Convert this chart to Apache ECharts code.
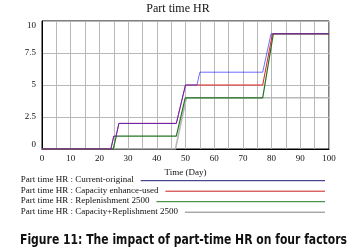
<!DOCTYPE html>
<html><head><meta charset="utf-8">
<script src="https://cdn.jsdelivr.net/npm/echarts@6/dist/echarts.min.js"></script>
<style>html,body{margin:0;padding:0;background:#fff}#c{width:356px;height:250px}</style>
</head><body><div id="c"></div>
<script>
const titleText = 'Part time HR';
const xName = 'Time (Day)';
const caption = 'Figure 11: The impact of part-time HR on four factors';
const yTicks = [0, 2.5, 5, 7.5, 10];
const xTicks = [0, 10, 20, 30, 40, 50, 60, 70, 80, 90, 100];
const seriesNames = ['Part time HR : Current-original', 'Part time HR : Capacity enhance-used', 'Part time HR : Replenishment 2500', 'Part time HR : Capacity+Replishment 2500'];
const blueDay = [0, 24, 25, 25.8, 26.8, 46.8, 50, 54, 55, 76.9, 79.8, 100];
const blueVal = [0, 0, 1, 1, 2, 2, 5, 5, 6, 6, 9, 9];
const redDay = [0, 24, 25, 25.8, 26.8, 46.8, 50, 76.9, 80.3, 100];
const redVal = [0, 0, 1, 1, 2, 2, 5, 5, 9, 9];
const greenDay = [0, 24.8, 25.9, 46.8, 49.9, 76.9, 80.6, 100];
const greenVal = [0, 0, 1, 1, 4, 4, 9, 9];
const grayDay = [0, 46.5, 50.3, 100];
const grayVal = [0, 0, 4, 4];

const pairs = (d, v) => d.map((x, i) => [x, v[i]]);
const serif = '"Liberation Serif", "DejaVu Serif", serif';

const meas = document.createElement('canvas').getContext('2d');
function textW(font, s) { meas.font = font; return meas.measureText(s).width; }

const legendColors = ['#1c1c7a', '#cc1f1f', '#1f7a1f', '#808080'];
const legendY = [180.7, 191.2, 201.7, 212.2];
const legendX = 20.7, legendEnd = 325, legendFont = 9;
const graphics = [];
seriesNames.forEach((n, i) => {
  const w = textW(legendFont + 'px ' + serif, n);
  graphics.push({type: 'text', left: legendX, top: legendY[i] - 5.5, silent: true,
    style: {text: n, font: legendFont + 'px ' + serif, fill: '#111'}});
  graphics.push({type: 'line', silent: true,
    shape: {x1: legendX + w + 7, y1: legendY[i], x2: legendEnd, y2: legendY[i]},
    style: {stroke: legendColors[i], lineWidth: 1}});
});
const capFont = 'bold 14px "DejaVu Sans", sans-serif';
const capW = textW(capFont, caption);
const capScale = 327 / capW;
graphics.push({type: 'text', x: 20, y: 240, scaleX: capScale, silent: true,
  style: {text: caption, font: capFont, fill: '#111', textVerticalAlign: 'middle'}});

const chart = echarts.init(document.getElementById('c'), null, {renderer: 'canvas'});
chart.setOption({
  animation: false,
  backgroundColor: '#fff',
  title: {text: titleText, left: 'center', top: 3, padding: 0,
    textStyle: {fontFamily: serif, fontSize: 12, fontWeight: 'normal', color: '#111'}},
  grid: {left: 42, top: 21, width: 287, height: 128, show: true, borderColor: '#000', borderWidth: 1, containLabel: false},
  xAxis: {type: 'value', min: 0, max: 100, interval: 5,
    name: xName, nameLocation: 'middle', nameGap: 19,
    nameTextStyle: {fontFamily: serif, fontSize: 9, color: '#111'},
    axisLine: {show: true, lineStyle: {color: '#000'}}, axisTick: {show: false},
    axisLabel: {fontFamily: serif, fontSize: 9, color: '#111', margin: 5,
      formatter: v => xTicks.indexOf(v) >= 0 ? String(v) : ''},
    splitLine: {show: true, lineStyle: {color: '#b8b8b8', width: 1}}},
  yAxis: {type: 'value', min: 0, max: 10, interval: 2.5,
    axisLine: {show: true, lineStyle: {color: '#000'}}, axisTick: {show: false},
    axisLabel: {fontFamily: serif, fontSize: 9, color: '#111', margin: 6,
      verticalAlignMaxLabel: 'top', verticalAlignMinLabel: 'bottom',
      formatter: v => yTicks.indexOf(v) >= 0 ? String(v) : ''},
    splitLine: {show: true, lineStyle: {color: '#b8b8b8', width: 1}}},
  series: [
    {name: seriesNames[3], type: 'line', showSymbol: false, data: pairs(grayDay, grayVal),
      lineStyle: {color: '#b8b8b8', width: 1.6}, z: 2},
    {name: seriesNames[2], type: 'line', showSymbol: false, data: pairs(greenDay, greenVal),
      lineStyle: {color: '#237523', width: 1.2}, z: 3},
    {name: seriesNames[1], type: 'line', showSymbol: false, data: pairs(redDay, redVal),
      lineStyle: {color: '#e02020', width: 1}, z: 4},
    {name: seriesNames[0], type: 'line', showSymbol: false, data: pairs(blueDay, blueVal),
      lineStyle: {color: '#2020ff', width: 1, opacity: 0.65}, z: 5}
  ],
  graphic: graphics
});
</script></body></html>
